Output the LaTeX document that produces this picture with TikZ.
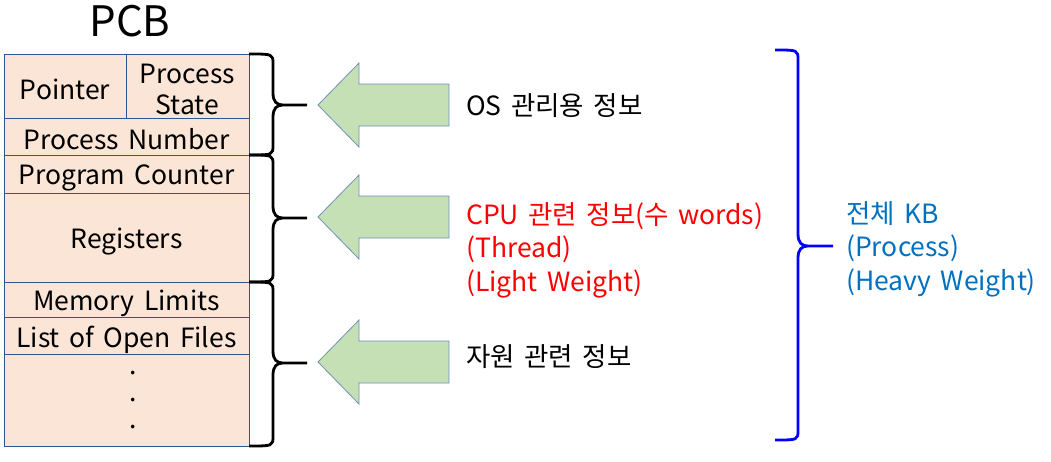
\documentclass[tikz,border=0pt]{standalone}
\usepackage{fontspec}
\setmainfont[WordSpace=1.6]{Noto Sans CJK KR}
\definecolor{peach}{HTML}{FBE5D6}
\definecolor{cellline}{HTML}{2F5597}
\definecolor{arrowfill}{HTML}{C5E0B4}
\definecolor{arrowline}{HTML}{6F8FC0}
\definecolor{kbblue}{HTML}{0070C0}
\newcommand\mybrace[7]{%
  \draw[#1, line width=2.8pt, line join=round]
    (#2,#5) .. controls (#3,#5) .. (#3,#5+10) -- (#3,#6-12)
    .. controls (#3,#6-3) and (#3+4,#6) .. (#3+10,#6) -- (#4,#6)
    (#3+10,#6) .. controls (#3+4,#6) and (#3,#6+3) .. (#3,#6+12)
    -- (#3,#7-10) .. controls (#3,#7) .. (#2,#7);}
\newcommand\greenarrow[1]{%
  \draw[arrowline, fill=arrowfill, line width=0.8pt, line join=miter]
    (318,#1) -- (359,#1-42) -- (359,#1-21) -- (449,#1-21) -- (449,#1+21)
    -- (359,#1+21) -- (359,#1+42) -- cycle;}
\begin{document}
\begin{tikzpicture}[x=1pt, y=-1pt,
  cell/.style={draw=cellline, fill=peach, line width=0.7pt, inner sep=0pt},
  txt/.style={inner sep=0pt, font=\fontsize{26.5}{31}\selectfont, align=center},
  lbl/.style={anchor=west, inner sep=0pt, font=\fontsize{26.5}{33.5}\selectfont, align=left}]
\useasboundingbox (0,0) rectangle (1051,461);
\node[inner sep=0pt, font=\fontsize{42}{46}\selectfont] (title) at (130,21) {PCB};
\node[cell, minimum width=122pt, minimum height=64pt] (ptr) at (65,86) {};
\node[cell, minimum width=123pt, minimum height=64pt] (pst) at (187.5,86) {};
\node[cell, minimum width=245pt, minimum height=37pt] (pnum) at (126.5,136.5) {};
\node[cell, minimum width=245pt, minimum height=38pt] (pc) at (126.5,174) {};
\node[cell, minimum width=245pt, minimum height=89pt] (reg) at (126.5,237.5) {};
\node[cell, minimum width=245pt, minimum height=35pt] (mem) at (126.5,299.5) {};
\node[cell, minimum width=245pt, minimum height=37pt] (files) at (126.5,335.5) {};
\node[cell, minimum width=245pt, minimum height=92pt] (more) at (126.5,400) {};
\node[txt] (tptr) at ([yshift=-3pt]ptr.center) {Pointer};
\node[txt] (tpst) at ([yshift=-3pt]pst.center) {Process\\State};
\node[txt] (tpnum) at ([yshift=-3pt]pnum.center) {Process Number};
\node[txt] (tpc) at ([yshift=-4pt]pc.center) {Program Counter};
\node[txt] (treg) at ([yshift=-4pt]reg.center) {Registers};
\node[txt] (tmem) at ([yshift=-4pt]mem.center) {Memory Limits};
\node[txt] (tfiles) at ([yshift=-4pt]files.center) {List of Open Files};
\node[txt, font=\fontsize{26.5}{27}\selectfont] (dots) at (133,400) {.\\.\\.};
\mybrace{black}{249}{273}{307}{54}{105}{155}
\mybrace{black}{249}{273}{307}{155}{218}{282}
\mybrace{black}{249}{273}{307}{282}{363}{446}
\mybrace{blue}{775}{798}{833}{50}{246}{440}
\greenarrow{105}
\greenarrow{217}
\greenarrow{362}
\node[lbl] (os) at (466,106) {OS 관리용 정보};
\node[lbl, text=red] (cpu) at (466,250) {CPU 관련 정보(수 words)\\(Thread)\\(Light Weight)};
\node[lbl] (res) at (466,357) {자원 관련 정보};
\node[lbl, text=kbblue] (kb) at (846,249) {전체 KB\\(Process)\\(Heavy Weight)};
\end{tikzpicture}
\end{document}
